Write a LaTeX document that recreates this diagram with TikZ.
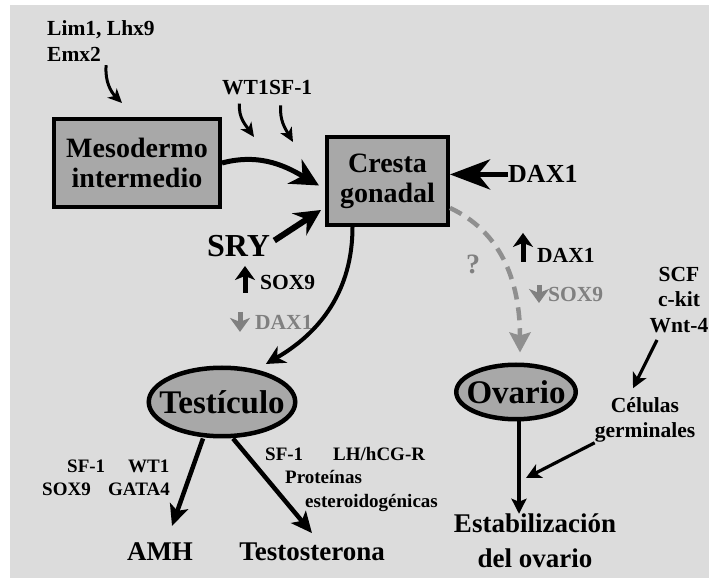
\documentclass[tikz,border=0pt]{standalone}
\usepackage{fontspec}
\setmainfont{Liberation Serif}
\usetikzlibrary{arrows.meta,shapes.geometric}

\definecolor{bggray}{HTML}{DCDCDC}
\definecolor{boxgray}{HTML}{A8A8A8}
\definecolor{txtgray}{HTML}{808080}
\definecolor{dashgray}{HTML}{8F8F8F}

\tikzset{
  box/.style={draw, line width=4pt, fill=boxgray, align=center, inner sep=0pt,
    font=\bfseries\fontsize{28}{30}\selectfont},
  organ/.style={draw, ellipse, line width=4.5pt, fill=boxgray, inner sep=0pt},
  organtxt/.style={inner sep=0pt, font=\bfseries\fontsize{33}{36}\selectfont},
  lbl/.style={inner sep=0pt, font=\bfseries\fontsize{21.5}{25.5}\selectfont},
  lblsm/.style={inner sep=0pt, font=\bfseries\fontsize{19}{22}\selectfont},
  lblbig/.style={inner sep=0pt, font=\bfseries\fontsize{27}{35}\selectfont},
  curlarr/.style={line width=3pt, -{Stealth[length=14pt,width=13pt,inset=4pt]}},
  mainarr/.style={line width=5pt, -{Stealth[length=28pt,width=28pt,inset=9pt]}},
  daxarr/.style={line width=5.5pt, -{Stealth[length=40pt,width=30pt,inset=12pt]}},
  sryarr/.style={line width=6pt, -{Stealth[length=26pt,width=26pt,inset=9pt]}},
  testarr/.style={line width=4pt, -{Stealth[length=19pt,width=19pt,inset=6pt]}},
  outarr/.style={line width=4.5pt, -{Stealth[length=21pt,width=19pt,inset=5pt]}},
  germarr/.style={line width=3.2pt, -{Stealth[length=15pt,width=15pt,inset=4pt]}},
  indarr/.style={line width=5pt, -{Stealth[length=14pt,width=20pt,inset=4pt]}},
  dasharr/.style={line width=4.5pt, dashgray, dash pattern=on 13pt off 8pt,
    -{Stealth[length=20pt,width=21pt,inset=3pt]}}
}

\begin{document}
\begin{tikzpicture}[x=1pt,y=1pt]
  \useasboundingbox (0,0) rectangle (709,581);
  \fill[white] (0,0) rectangle (709,581);
  \fill[bggray] (10,3) rectangle (709,576);

  % boxes and organs
  \node[box, minimum width=166pt, minimum height=88pt] (meso) at (137,418) {Mesodermo\\intermedio};
  \node[box, minimum width=121pt, minimum height=88pt] (cresta) at (387.5,400) {Cresta\\gonadal};
  \node[organ, minimum width=146.5pt, minimum height=68.5pt] (testis) at (222,179) {};
  \node[organtxt] (testistxt) at (testis) {Testículo};
  \node[organ, minimum width=119.5pt, minimum height=54.5pt] (ovary) at (516,189) {};
  \node[organtxt] (ovarytxt) at (ovary) {Ovario};

  % labels
  \node[lbl, anchor=base west] (lim) at (47,545) {Lim1, Lhx9};
  \node[lbl, anchor=base west] (emx) at (47,519) {Emx2};
  \node[lbl, anchor=base west] (wt) at (222,486) {WT1};
  \node[lbl, anchor=base west] (sf) at (269,486) {SF-1};
  \node[inner sep=0pt, anchor=base west, font=\bfseries\fontsize{26}{30}\selectfont] (daxg) at (508,398) {DAX1};
  \node[inner sep=0pt, anchor=base west, font=\bfseries\fontsize{32}{36}\selectfont] (sry) at (207,324) {SRY};
  \node[lbl, anchor=base west] (soxm) at (260,291) {SOX9};
  \node[lbl, anchor=base west, txtgray] (daxm) at (255,251) {DAX1};
  \node[inner sep=0pt, txtgray, font=\bfseries\fontsize{28}{30}\selectfont] (quest) at (473,317) {?};
  \node[lbl, anchor=base west] (daxf) at (537,318) {DAX1};
  \node[lbl, anchor=base west, txtgray] (soxf) at (548,279) {SOX9};
  \node[lbl, align=center] (scf) at (679,281) {SCF\\c-kit\\Wnt-4};
  \node[lbl, align=center] (germ) at (645,161) {Células\\germinales};
  \node[lblbig, align=center] (estab) at (535,40) {Estabilización\\del ovario};
  \node[lblbig, anchor=base] (amh) at (160,21) {AMH};
  \node[lblbig, anchor=base] (testo) at (312,21) {Testosterona};
  \node[lblsm, anchor=base west] (sfa) at (67,109) {SF-1};
  \node[lblsm, anchor=base west] (wta) at (128,109) {WT1};
  \node[lblsm, anchor=base west] (soxa) at (42,86) {SOX9};
  \node[lblsm, anchor=base west] (gata) at (108,86) {GATA4};
  \node[lblsm, anchor=base west] (sfb) at (265,121) {SF-1};
  \node[lblsm, anchor=base west] (lhr) at (333,121) {LH/hCG-R};
  \node[lblsm, anchor=base west] (prot) at (285,98) {Proteínas};
  \node[lblsm, anchor=base west] (ester) at (305,74) {esteroidogénicas};

  \coordinate (limtip) at (122,478);
  \coordinate (wttip) at (254,444);
  \coordinate (sftip) at (293,439);
  \coordinate (join) at (526,103);

  % curly arrows
  \draw[curlarr] ([shift={(5pt,-3pt)}]emx.south east) to[out=-95,in=135] (limtip);
  \draw[curlarr] ([shift={(-6pt,-8pt)}]wt.south) to[out=-95,in=125] (wttip);
  \draw[curlarr] ([shift={(-10pt,-10pt)}]sf.south) to[out=-95,in=120] (sftip);

  % main arrows
  \draw[mainarr, shorten >=7pt] (meso.east) to[out=15,in=150] ([yshift=-8pt]cresta.west);
  \draw[daxarr] (daxg.west) -- (daxg.west -| cresta.east);
  \draw[sryarr] ([shift={(4pt,6pt)}]sry.east) -- ([shift={(-4pt,17pt)}]cresta.south west);
  \draw[testarr] ([xshift=-35pt]cresta.south) to[out=-90,in=30] ([shift={(1pt,8pt)}]testis.35);
  \draw[dasharr, shorten >=10pt] ([yshift=-27pt]cresta.east) to[out=-25,in=90] ([xshift=4pt]ovary.north);

  % up / down indicators
  \draw[indarr] ([shift={(-15pt,-10pt)}]soxm.west) -- ([shift={(-15pt,17pt)}]soxm.west);
  \draw[indarr, txtgray] ([shift={(-15pt,11pt)}]daxm.west) -- ([shift={(-15pt,-9pt)}]daxm.west);
  \draw[indarr] ([shift={(-14pt,-6pt)}]daxf.west) -- ([shift={(-14pt,23pt)}]daxf.west);
  \draw[indarr, txtgray] ([shift={(-9pt,10pt)}]soxf.west) -- ([shift={(-9pt,-8pt)}]soxf.west);

  % products
  \draw[outarr] ([xshift=-19pt]testis.south) -- ([shift={(12pt,16pt)}]amh.north);
  \draw[outarr] ([xshift=11pt]testis.south) -- ([yshift=9pt]testo.north);
  \draw[outarr, -{Stealth[length=15pt,width=15pt,inset=3pt]}] ([xshift=3pt]ovary.south) -- ([xshift=3pt]ovary.south |- estab.north);
  \draw[germarr] ([shift={(-22pt,-7pt)}]scf.south) -- ([shift={(-12pt,9pt)}]germ.north);
  \draw[germarr] (germ.south west) -- (join);
\end{tikzpicture}
\end{document}
